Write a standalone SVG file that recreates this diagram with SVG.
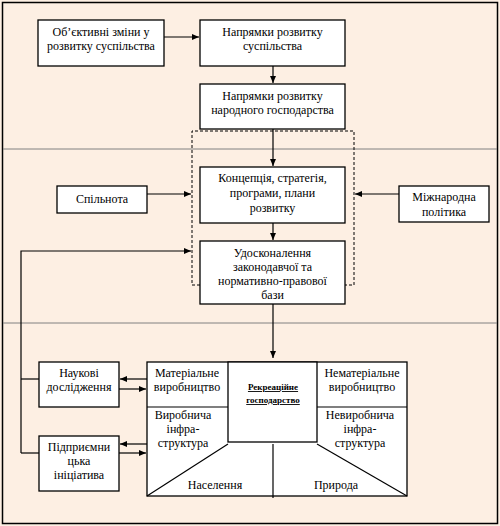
<svg xmlns="http://www.w3.org/2000/svg" width="500" height="526" viewBox="0 0 500 526">
<defs>
<marker id="ah" markerWidth="8" markerHeight="6" refX="7" refY="3" orient="auto" markerUnits="userSpaceOnUse">
<path d="M0,0 L7,3 L0,6 Z" fill="#000"/>
</marker>
<style>
.bx{fill:#fff;stroke:#000;stroke-width:1.3}
.ln{fill:none;stroke:#000;stroke-width:1.2}
.sep{fill:none;stroke:#808080;stroke-width:1}
.t{font-family:"Liberation Serif","Times New Roman",serif;font-size:12px;fill:#000;text-anchor:middle}
.b{font-family:"Liberation Serif","Times New Roman",serif;font-size:9px;font-weight:bold;text-decoration:underline;fill:#000;text-anchor:middle}
</style>
</defs>
<rect x="0" y="0" width="500" height="526" fill="#FDEFE3"/>
<rect x="2.5" y="2.5" width="495" height="521" fill="#FDEFE3" stroke="#000" stroke-width="1.5"/>
<line class="sep" x1="3" y1="149" x2="497" y2="149"/>
<line class="sep" x1="3" y1="323" x2="497" y2="323"/>

<path d="M200,285 H192 V131 H354 V285 H345" fill="none" stroke="#000" stroke-width="1" stroke-dasharray="3,2"/>

<g id="connectors">
<line class="ln" x1="164" y1="37" x2="199" y2="37" marker-end="url(#ah)"/>
<line class="ln" x1="273" y1="66" x2="273" y2="83" marker-end="url(#ah)"/>
<line class="ln" x1="273" y1="129" x2="273" y2="166" marker-end="url(#ah)"/>
<line class="ln" x1="273" y1="223" x2="273" y2="240" marker-end="url(#ah)"/>
<line class="ln" x1="147" y1="194" x2="191" y2="194" marker-end="url(#ah)"/>
<line class="ln" x1="399" y1="194" x2="355" y2="194" marker-end="url(#ah)"/>
<line class="ln" x1="273" y1="304" x2="273" y2="358" marker-end="url(#ah)"/>
<path class="ln" d="M21,453 V251 H191" marker-end="url(#ah)"/>
<line class="ln" x1="21" y1="379" x2="39" y2="379"/>
<line class="ln" x1="21" y1="453" x2="39" y2="453"/>
<line class="ln" x1="147" y1="379" x2="120" y2="379" marker-end="url(#ah)"/>
<line class="ln" x1="119" y1="389" x2="146" y2="389" marker-end="url(#ah)"/>
<line class="ln" x1="147" y1="444" x2="120" y2="444" marker-end="url(#ah)"/>
<line class="ln" x1="119" y1="453" x2="146" y2="453" marker-end="url(#ah)"/>
</g>

<g id="n1"><rect class="bx" x="38" y="20" width="126" height="46"/>
<text class="t" x="101" y="36">Об’єктивні зміни у</text><text class="t" x="101" y="50">розвитку суспільства</text></g>
<g id="n2"><rect class="bx" x="200" y="20" width="145" height="46"/>
<text class="t" x="272.5" y="36">Напрямки розвитку</text><text class="t" x="272.5" y="50">суспільства</text></g>
<g id="n3"><rect class="bx" x="200" y="84" width="145" height="45"/>
<text class="t" x="272.5" y="100">Напрямки розвитку</text><text class="t" x="272.5" y="114">народного господарства</text></g>
<g id="n4"><rect class="bx" x="200" y="167" width="145" height="56"/>
<text class="t" x="272.5" y="182">Концепція, стратегія,</text><text class="t" x="272.5" y="197">програми, плани</text><text class="t" x="272.5" y="212">розвитку</text></g>
<g id="n5"><rect class="bx" x="200" y="241" width="145" height="63"/>
<text class="t" x="272.5" y="257">Удосконалення</text><text class="t" x="272.5" y="271">законодавчої та</text><text class="t" x="272.5" y="285">нормативно-правової</text><text class="t" x="272.5" y="299">бази</text></g>
<g id="n6"><rect class="bx" x="57" y="186" width="90" height="27"/>
<text class="t" x="102" y="203">Спільнота</text></g>
<g id="n7"><rect class="bx" x="399" y="186" width="90" height="36"/>
<text class="t" x="444" y="201">Міжнародна</text><text class="t" x="444" y="216">політика</text></g>
<g id="n8"><rect class="bx" x="39" y="362" width="80" height="45"/>
<text class="t" x="79" y="377">Наукові</text><text class="t" x="79" y="391">дослідження</text></g>
<g id="n9"><rect class="bx" x="39" y="436" width="80" height="55"/>
<text class="t" x="79" y="451">Підприємни</text><text class="t" x="79" y="465">цька</text><text class="t" x="79" y="479">ініціатива</text></g>

<g id="structure">
<rect class="bx" x="147" y="362" width="260" height="134"/>
<line class="ln" x1="147" y1="407" x2="228" y2="407"/>
<line class="ln" x1="317" y1="407" x2="407" y2="407"/>
<line class="ln" x1="228" y1="444" x2="147" y2="496"/>
<line class="ln" x1="317" y1="444" x2="407" y2="496"/>
<line class="ln" x1="273" y1="444" x2="273" y2="498"/>
<rect class="bx" x="228" y="362" width="89" height="80"/>
<text class="t" x="187" y="377">Матеріальне</text><text class="t" x="187" y="391">виробництво</text>
<text class="t" x="362" y="377">Нематеріальне</text><text class="t" x="362" y="391">виробництво</text>
<text class="t" x="183" y="419">Виробнича</text><text class="t" x="183" y="433">інфра-</text><text class="t" x="183" y="447">структура</text>
<text class="t" x="360" y="419">Невиробнича</text><text class="t" x="360" y="433">інфра-</text><text class="t" x="360" y="447">структура</text>
<text class="t" x="215" y="489">Населення</text>
<text class="t" x="336" y="489">Природа</text>
<text class="b" x="273" y="390">Рекреаційне</text><text class="b" x="273" y="403">господарство</text>
</g>
</svg>
